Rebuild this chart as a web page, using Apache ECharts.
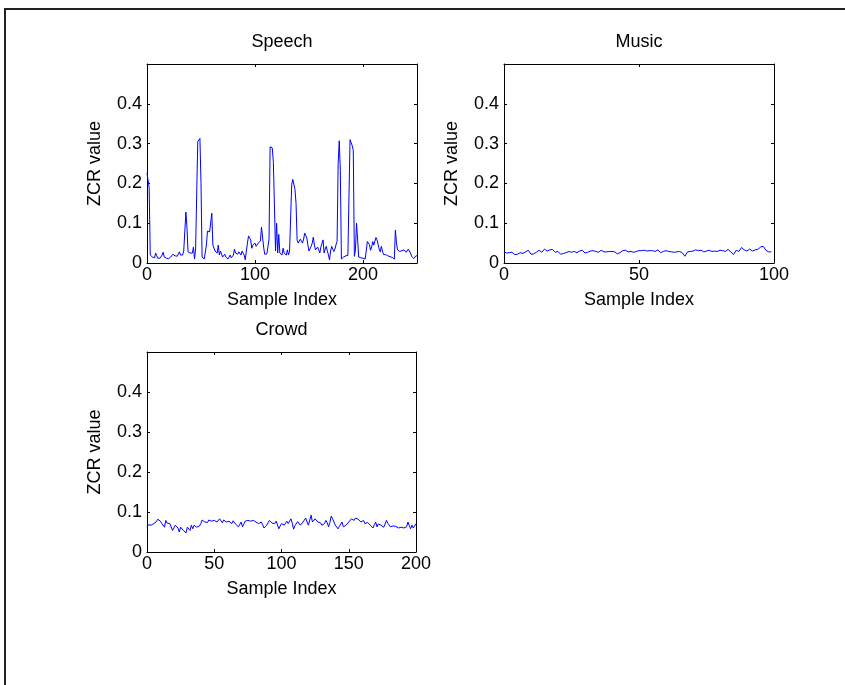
<!DOCTYPE html>
<html>
<head>
<meta charset="utf-8">
<script src="https://cdn.jsdelivr.net/npm/echarts@6/dist/echarts.min.js"></script>
<style>
html,body{margin:0;padding:0;background:#fff;}
#chart{width:845px;height:685px;}
</style>
</head>
<body>
<div id="chart"></div>
<script>
// ---- data ----
const panelTitles = ['Speech', 'Music', 'Crowd'];
const xAxisName = 'Sample Index';
const yAxisName = 'ZCR value';

const speechValues = [
0.225,0.228,0.19,0.02,0.015,0.015,0.018,0.013,0.025,0.018,
0.012,0.01,0.012,0.015,0.02,0.027,0.015,0.013,0.012,0.01,
0.011,0.01,0.015,0.018,0.022,0.02,0.018,0.02,0.017,0.022,
0.028,0.02,0.025,0.02,0.03,0.028,0.128,0.09,0.028,0.03,
0.025,0.028,0.025,0.04,0.01,0.035,0.04,0.305,0.31,0.313,
0.2,0.015,0.012,0.01,0.01,0.045,0.08,0.075,0.078,0.078,
0.125,0.045,0.04,0.03,0.035,0.025,0.045,0.02,0.03,0.025,
0.015,0.02,0.022,0.015,0.012,0.01,0.012,0.02,0.013,0.015,
0.02,0.035,0.025,0.03,0.022,0.028,0.032,0.02,0.03,0.03,
0.02,0.008,0.03,0.05,0.068,0.065,0.058,0.037,0.045,0.043,
0.05,0.042,0.045,0.05,0.048,0.055,0.09,0.088,0.04,0.022,
0.023,0.023,0.025,0.06,0.292,0.29,0.289,0.253,0.253,0.03,
0.1,0.025,0.072,0.025,0.02,0.02,0.037,0.025,0.027,0.02,
0.033,0.02,0.03,0.028,0.198,0.21,0.214,0.185,0.15,0.058,
0.05,0.048,0.06,0.055,0.05,0.06,0.075,0.07,0.063,0.045,
0.03,0.035,0.042,0.05,0.065,0.045,0.033,0.035,0.04,0.033,
0.025,0.04,0.045,0.058,0.025,0.035,0.042,0.03,0.02,0.008,
0.03,0.042,0.035,0.029,0.035,0.046,0.054,0.25,0.307,0.233,
0.01,0.013,0.015,0.016,0.018,0.018,0.019,0.02,0.31,0.305,
0.295,0.283,0.017,0.033,0.1,0.06,0.015,0.014,0.013,0.0125,
0.012,0.011,0.01,0.03,0.054,0.05,0.046,0.032,0.04,0.054,
0.045,0.042,0.064,0.058,0.054,0.035,0.028,0.042,0.03,0.021,
0.022,0.021,0.019,0.018,0.017,0.016,0.015,0.014,0.012,0.01,
0.083,0.05,0.033,0.03,0.029,0.03,0.031,0.032,0.033,0.03,
0.027,0.025,0.035,0.04,0.025,0.017,0.014,0.011,0.015,0.018,
0.018
];

const musicValues = [
0.028,0.025,0.026,0.027,0.021,0.022,0.026,0.024,0.028,0.032,
0.022,0.023,0.027,0.032,0.027,0.035,0.03,0.033,0.034,0.027,
0.029,0.022,0.024,0.026,0.029,0.027,0.029,0.026,0.03,0.032,
0.025,0.027,0.03,0.031,0.029,0.027,0.032,0.028,0.028,0.029,
0.029,0.028,0.023,0.026,0.031,0.032,0.028,0.029,0.027,0.029,
0.031,0.031,0.032,0.03,0.031,0.031,0.029,0.033,0.026,0.029,
0.031,0.029,0.028,0.027,0.028,0.029,0.026,0.017,0.028,0.029,
0.03,0.033,0.031,0.032,0.028,0.03,0.032,0.029,0.03,0.029,
0.032,0.031,0.029,0.034,0.028,0.021,0.032,0.029,0.039,0.033,
0.03,0.035,0.03,0.033,0.034,0.04,0.042,0.032,0.028,0.028
];

const crowdValues = [
0.062,0.068,0.071,0.067,0.064,0.071,0.069,0.076,0.082,0.083,
0.077,0.071,0.066,0.062,0.079,0.072,0.067,0.071,0.075,0.054,
0.06,0.067,0.063,0.06,0.05,0.062,0.058,0.054,0.05,0.048,
0.062,0.058,0.054,0.067,0.058,0.067,0.064,0.062,0.067,0.065,
0.071,0.08,0.083,0.075,0.079,0.074,0.08,0.083,0.077,0.074,
0.079,0.077,0.075,0.072,0.083,0.078,0.073,0.08,0.085,0.075,
0.072,0.077,0.074,0.071,0.078,0.075,0.069,0.067,0.063,0.058,
0.075,0.063,0.068,0.077,0.073,0.079,0.083,0.077,0.073,0.079,
0.076,0.075,0.072,0.071,0.074,0.075,0.068,0.06,0.064,0.067,
0.073,0.079,0.075,0.072,0.077,0.071,0.077,0.068,0.058,0.065,
0.071,0.069,0.067,0.072,0.077,0.071,0.075,0.083,0.072,0.057,
0.066,0.071,0.076,0.079,0.067,0.072,0.075,0.077,0.085,0.075,
0.067,0.08,0.092,0.075,0.079,0.083,0.078,0.075,0.071,0.073,
0.067,0.069,0.071,0.079,0.073,0.063,0.074,0.09,0.083,0.075,
0.067,0.071,0.058,0.064,0.067,0.075,0.063,0.066,0.067,0.071,
0.075,0.079,0.083,0.08,0.079,0.085,0.08,0.082,0.078,0.075,
0.077,0.079,0.071,0.067,0.074,0.077,0.067,0.063,0.06,0.068,
0.075,0.063,0.07,0.075,0.067,0.065,0.062,0.07,0.079,0.072,
0.067,0.063,0.06,0.065,0.068,0.064,0.062,0.06,0.058,0.062,
0.063,0.06,0.062,0.063,0.075,0.066,0.058,0.067,0.06,0.065,
0.071
];

const xMax = [250, 100, 200];
const xInterval = [100, 50, 50];
const yMin = 0, yMax = 0.5, yInterval = 0.1;

// ---- layout ----
const FONT = 'Liberation Sans, Arial, Helvetica, sans-serif';
const FS = 18;
const grids = [
  {left: 147, top: 64, width: 270, height: 199},
  {left: 504, top: 64, width: 270, height: 199},
  {left: 147, top: 352, width: 269, height: 200}
];
const seriesValues = [speechValues, musicValues, crowdValues];

const chart = echarts.init(document.getElementById('chart'), null, {renderer: 'canvas'});

const xAxes = [], yAxes = [], series = [], graphics = [];
grids.forEach((g, i) => {
  const lineStyle = {color: '#000', width: 1};
  xAxes.push({
    gridIndex: i, type: 'value', position: 'bottom', min: 0, max: xMax[i], interval: xInterval[i],
    name: xAxisName, nameLocation: 'middle', nameGap: 28,
    nameTextStyle: {color: '#000', fontSize: FS, fontFamily: FONT},
    axisLine: {show: true, onZero: false, lineStyle},
    axisTick: {show: true, inside: true, length: 3, lineStyle},
    axisLabel: {color: '#000', fontSize: FS, fontFamily: FONT, margin: 3, showMaxLabel: xMax[i] % xInterval[i] === 0},
    splitLine: {show: false}
  });
  xAxes.push({
    gridIndex: i, type: 'value', position: 'top', min: 0, max: xMax[i], interval: xInterval[i],
    axisLine: {show: true, onZero: false, lineStyle},
    axisTick: {show: true, inside: true, length: 3, lineStyle},
    axisLabel: {show: false}, splitLine: {show: false}
  });
  yAxes.push({
    gridIndex: i, type: 'value', position: 'left', min: yMin, max: yMax, interval: yInterval,
    name: yAxisName, nameLocation: 'middle', nameGap: 43, nameRotate: 90,
    nameTextStyle: {color: '#000', fontSize: FS, fontFamily: FONT},
    axisLine: {show: true, onZero: false, lineStyle},
    axisTick: {show: true, inside: true, length: 3, lineStyle},
    axisLabel: {color: '#000', fontSize: FS, fontFamily: FONT, margin: 5, showMaxLabel: false,
      formatter: v => (v === 0 ? '0' : v.toFixed(1))},
    splitLine: {show: false}
  });
  yAxes.push({
    gridIndex: i, type: 'value', position: 'right', min: yMin, max: yMax, interval: yInterval,
    axisLine: {show: true, onZero: false, lineStyle},
    axisTick: {show: true, inside: true, length: 3, lineStyle},
    axisLabel: {show: false}, splitLine: {show: false}
  });
  series.push({
    type: 'line', xAxisIndex: i * 2, yAxisIndex: i * 2,
    data: seriesValues[i].map((v, k) => [k, v]),
    showSymbol: false, symbol: 'none', animation: false,
    lineStyle: {color: '#0000ff', width: 1}
  });
  graphics.push({
    type: 'text', x: g.left + g.width / 2, y: g.top - 22,
    style: {text: panelTitles[i], fill: '#000', font: FS + 'px ' + FONT, align: 'center', verticalAlign: 'middle'}
  });
});

graphics.push({
  type: 'rect', shape: {x: 5, y: 9, width: 900, height: 800},
  style: {fill: 'none', stroke: '#222', lineWidth: 2}, silent: true, z: -1
});

chart.setOption({
  animation: false,
  backgroundColor: '#fff',
  grid: grids.map(g => Object.assign({containLabel: false}, g)),
  xAxis: xAxes,
  yAxis: yAxes,
  series: series,
  graphic: graphics
});
</script>
</body>
</html>
